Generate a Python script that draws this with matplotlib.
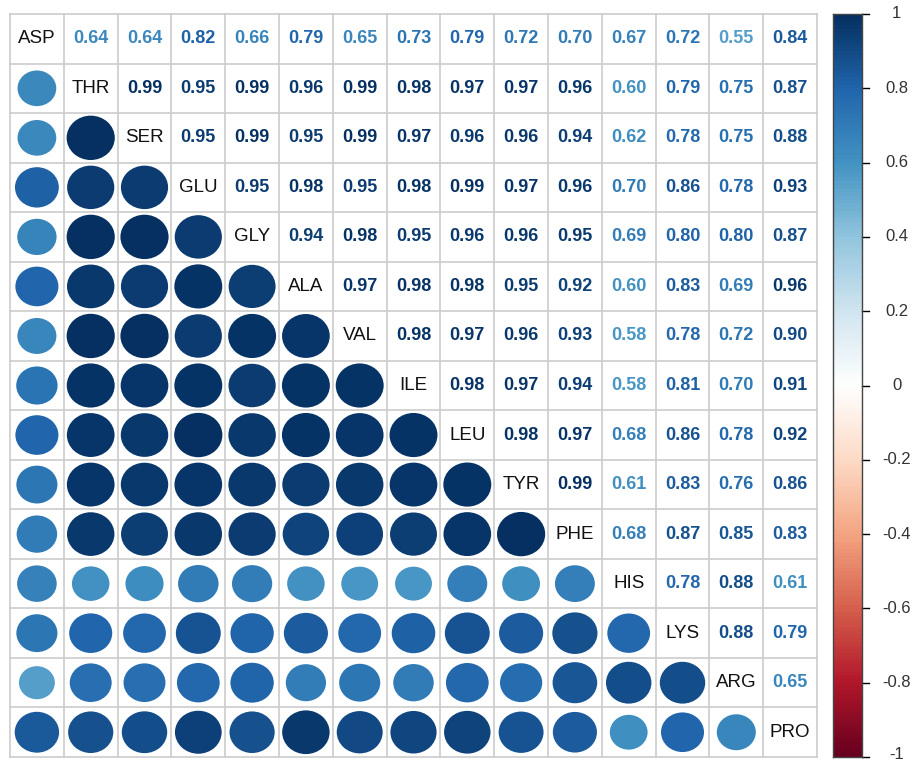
import numpy as np
import matplotlib
matplotlib.use('Agg')
import matplotlib.pyplot as plt
from matplotlib.colors import LinearSegmentedColormap
from matplotlib.patches import Ellipse

labels = ['ASP', 'THR', 'SER', 'GLU', 'GLY', 'ALA', 'VAL', 'ILE', 'LEU',
          'TYR', 'PHE', 'HIS', 'LYS', 'ARG', 'PRO']

# upper triangle, row by row
upper = [
    [0.64, 0.64, 0.82, 0.66, 0.79, 0.65, 0.73, 0.79, 0.72, 0.70, 0.67, 0.72, 0.55, 0.84],
    [0.99, 0.95, 0.99, 0.96, 0.99, 0.98, 0.97, 0.97, 0.96, 0.60, 0.79, 0.75, 0.87],
    [0.95, 0.99, 0.95, 0.99, 0.97, 0.96, 0.96, 0.94, 0.62, 0.78, 0.75, 0.88],
    [0.95, 0.98, 0.95, 0.98, 0.99, 0.97, 0.96, 0.70, 0.86, 0.78, 0.93],
    [0.94, 0.98, 0.95, 0.96, 0.96, 0.95, 0.69, 0.80, 0.80, 0.87],
    [0.97, 0.98, 0.98, 0.95, 0.92, 0.60, 0.83, 0.69, 0.96],
    [0.98, 0.97, 0.96, 0.93, 0.58, 0.78, 0.72, 0.90],
    [0.98, 0.97, 0.94, 0.58, 0.81, 0.70, 0.91],
    [0.98, 0.97, 0.68, 0.86, 0.78, 0.92],
    [0.99, 0.61, 0.83, 0.76, 0.86],
    [0.68, 0.87, 0.85, 0.83],
    [0.78, 0.88, 0.61],
    [0.88, 0.79],
    [0.65],
]

n = len(labels)
corr = np.eye(n)
for i, row in enumerate(upper):
    for k, v in enumerate(row):
        j = i + 1 + k
        corr[i, j] = v
        corr[j, i] = v

cmap = LinearSegmentedColormap.from_list('rdbu', [
    '#67001F', '#B2182B', '#D6604D', '#F4A582', '#FDDBC7', '#FFFFFF',
    '#D1E5F0', '#92C5DE', '#4393C3', '#2166AC', '#053061'], N=200)
col = lambda v: cmap((v + 1) / 2)

plt.rcParams['font.family'] = ['Liberation Sans', 'DejaVu Sans']
fig = plt.figure(figsize=(9.15, 7.6), dpi=100)
ax = fig.add_axes([10 / 915, 3 / 760, 807 / 915, 743 / 760])
ax.set_xlim(0, n)
ax.set_ylim(n, 0)
ax.axis('off')

for i in range(n):
    for j in range(n):
        v = corr[i, j]
        if i == j:
            ax.text(j + 0.5, i + 0.5, labels[i], ha='center', va='center',
                    fontsize=13.5, color='#111111')
        elif j > i:
            ax.text(j + 0.5, i + 0.5, f'{v:.2f}', ha='center', va='center',
                    fontsize=13, fontweight='bold', color=col(v))
        else:
            d = 0.9 * np.sqrt(abs(v))
            ax.add_patch(Ellipse((j + 0.5, i + 0.5), d, d, facecolor=col(v),
                                 edgecolor='none'))

for k in range(n + 1):
    ax.plot([k, k], [0, n], color='#cccccc', lw=1.2, clip_on=False)
    ax.plot([0, n], [k, k], color='#cccccc', lw=1.2, clip_on=False)

# colour legend
cax = fig.add_axes([833 / 915, 3 / 760, 29 / 915, 743 / 760])
grad = np.linspace(-1, 1, 200).reshape(-1, 1)
cax.imshow(grad, cmap=cmap, aspect='auto', origin='lower', extent=[0, 1, -1, 1])
cax.set_xlim(0, 1)
cax.set_ylim(-1, 1)
cax.set_xticks([])
cax.set_yticks([])
for s in cax.spines.values():
    s.set_color('#444444')
    s.set_linewidth(1)
ticks = np.round(np.arange(-1, 1.01, 0.2), 1)
for t in ticks:
    cax.plot([1, 1.24], [t, t], color='black', lw=1, clip_on=False)
    txt = '0' if abs(t) < 1e-9 else (f'{t:g}')
    y = t + 0.008 if t == -1 else t
    cax.text(2.2, y, txt, ha='center', va='center', fontsize=12, color='#333333')

fig.savefig('out.png', dpi=100)
